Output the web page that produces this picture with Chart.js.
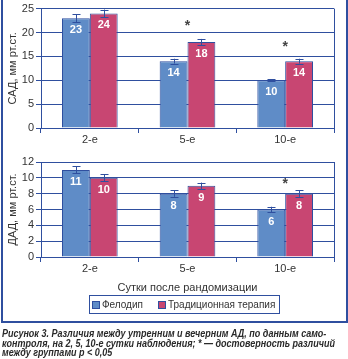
<!DOCTYPE html>
<html lang="ru">
<head>
  <meta charset="UTF-8">
  <title>Рисунок 3</title>
  <script src="https://cdn.jsdelivr.net/npm/chart.js"></script>
  <style>
    body, html {
      margin: 0;
      padding: 0;
      width: 348px;
      height: 359px;
      overflow: hidden;
      background: #fff;
      font-family: "Liberation Sans", Arial, sans-serif;
    }
    #frame {
      position: absolute;
      left: 1px;
      top: -2px;
      width: 343px;
      height: 321px;
      border: 2px solid #2f4f9f;
    }
    canvas { position: absolute; left: 0; }
    #top { top: 0; }
    #bottom { top: 145px; }
    #legend {
      position: absolute;
      left: 89px;
      top: 295px;
      width: 189px;
      height: 17px;
      border: 1px solid #2f4f9f;
      font-size: 10px;
      color: #333;
      line-height: 17px;
      white-space: nowrap;
    }
    #legend span.item { position: absolute; top: 0; }
    #legend span.box {
      display: inline-block;
      width: 6px;
      height: 6px;
      border: 1px solid #2f4f9f;
      margin-right: 2px;
      vertical-align: -1px;
    }
    #caption {
      position: absolute;
      left: 2px;
      top: 329px;
      font-size: 11px;
      line-height: 9.5px;
      font-weight: bold;
      font-style: italic;
      color: #2a2a2a;
      white-space: nowrap;
      transform-origin: 0 0;
    }
    #caption div { display: table; }
  </style>
</head>
<body>
  <div id="frame"></div>
  <canvas id="top" width="348" height="150"></canvas>
  <canvas id="bottom" width="348" height="150"></canvas>
  <div id="legend"></div>
  <div id="caption"></div>

  <script>
    // Data
    const categories = ['2-е', '5-е', '10-е'];
    const seriesNames = ['Фелодип', 'Традиционная терапия'];
    const seriesColors = ['#5f8cc7', '#c84672'];

    // САД (systolic)
    const sadFelodip = [23, 14, 10];
    const sadTrad = [24, 18, 14];
    const sadFelodipErr = [0.8, 0.5, 0.25];
    const sadTradErr = [0.8, 0.65, 0.5];
    const sadStars = [null, 22, 17.5]; // where the * sits, in axis units

    // ДАД (diastolic)
    const dadFelodip = [11, 8, 6];
    const dadTrad = [10, 9, 8];
    const dadFelodipErr = [0.45, 0.4, 0.35];
    const dadTradErr = [0.45, 0.4, 0.4];
    const dadStars = [null, null, 9.6];

    const lineBlue = '#2f4f9f';
    const textGray = '#333333';
    Chart.defaults.font.family = '"Liberation Sans", Arial, sans-serif';
    Chart.defaults.font.size = 11;
    Chart.defaults.color = textGray;

    // error bars, white value labels, asterisks, right frame line
    const extras = {
      id: 'extras',
      afterDatasetsDraw(chart, args, opts) {
        const ctx = chart.ctx;
        const y = chart.scales.y;
        const x = chart.scales.x;
        const area = chart.chartArea;
        ctx.save();
        ctx.strokeStyle = lineBlue;
        ctx.lineWidth = 1;
        ctx.beginPath();
        ctx.moveTo(area.right + 0.5, area.top);
        ctx.lineTo(area.right + 0.5, area.bottom);
        ctx.stroke();

        chart.data.datasets.forEach((ds, di) => {
          const meta = chart.getDatasetMeta(di);
          meta.data.forEach((bar, i) => {
            const v = ds.data[i];
            const e = ds.errors[i];
            const cx = Math.round(bar.x) + 0.5;
            const yt = y.getPixelForValue(v + e);
            const yb = y.getPixelForValue(v - e);
            ctx.strokeStyle = lineBlue;
            ctx.beginPath();
            ctx.moveTo(cx, yt); ctx.lineTo(cx, yb);
            ctx.moveTo(cx - 4, Math.round(yt) + 0.5); ctx.lineTo(cx + 4, Math.round(yt) + 0.5);
            ctx.moveTo(cx - 4, Math.round(yb) + 0.5); ctx.lineTo(cx + 4, Math.round(yb) + 0.5);
            ctx.stroke();

            ctx.fillStyle = '#ffffff';
            ctx.font = 'bold 11px "Liberation Sans", Arial, sans-serif';
            ctx.textAlign = 'center';
            ctx.textBaseline = 'middle';
            ctx.fillText(String(v), bar.x, bar.y + 12);
          });
        });

        ctx.fillStyle = '#444';
        ctx.font = 'bold 14px "Liberation Sans", Arial, sans-serif';
        ctx.textAlign = 'center';
        ctx.textBaseline = 'middle';
        opts.stars.forEach((s, i) => {
          if (s === null) return;
          ctx.fillText('*', x.getPixelForValue(i), y.getPixelForValue(s) + 3);
        });
        ctx.restore();
      }
    };

    function makeChart(id, a, b, ea, eb, stars, yMax, yStep, yTitle, xTitle, padTop, xHeight) {
      return new Chart(document.getElementById(id), {
        type: 'bar',
        data: {
          labels: categories,
          datasets: [
            { label: seriesNames[0], data: a, errors: ea, backgroundColor: seriesColors[0] },
            { label: seriesNames[1], data: b, errors: eb, backgroundColor: seriesColors[1] }
          ]
        },
        options: {
          responsive: false,
          animation: false,
          categoryPercentage: 0.57,
          barPercentage: 1.0,
          borderColor: lineBlue,
          borderWidth: 1,
          layout: { padding: { top: padTop, right: 14, left: 0, bottom: 0 } },
          scales: {
            x: {
              offset: true,
              grid: { offset: true, drawOnChartArea: false, drawTicks: true, tickLength: 5, color: lineBlue },
              border: { color: lineBlue, width: 1 },
              ticks: { padding: 0, color: textGray },
              title: { display: !!xTitle, text: xTitle, color: textGray, padding: { top: 2, bottom: 0 } },
              afterFit(s) { s.height = xHeight; }
            },
            y: {
              min: 0,
              max: yMax,
              ticks: { stepSize: yStep, padding: 2, color: textGray, autoSkip: false },
              grid: { color: lineBlue, tickLength: 5 },
              border: { color: lineBlue, width: 1 },
              title: { display: true, text: yTitle, color: textGray, padding: { top: 6, bottom: 0 } },
              afterFit(s) { s.width = 41; }
            }
          },
          plugins: {
            legend: { display: false },
            tooltip: { enabled: false },
            extras: { stars: stars }
          }
        },
        plugins: [extras]
      });
    }

    makeChart('top', sadFelodip, sadTrad, sadFelodipErr, sadTradErr, sadStars,
      25, 5, 'САД, мм рт.ст.', '', 8, 22);
    makeChart('bottom', dadFelodip, dadTrad, dadFelodipErr, dadTradErr, dadStars,
      12, 2, 'ДАД, мм рт.ст.', 'Сутки после рандомизации', 17, 38);

    // legend
    const legend = document.getElementById('legend');
    const legendX = [2, 68];
    seriesNames.forEach((name, i) => {
      const item = document.createElement('span');
      item.className = 'item';
      item.style.left = legendX[i] + 'px';
      item.innerHTML = '<span class="box" style="background:' + seriesColors[i] + '"></span>' + name;
      legend.appendChild(item);
    });

    // caption, squeezed horizontally to the width of the original lines
    const captionLines = [
      'Рисунок 3. Различия между утренним и вечерним АД, по данным само-',
      'контроля, на 2, 5, 10-е сутки наблюдения; * — достоверность различий',
      'между группами p < 0,05'
    ];
    const caption = document.getElementById('caption');
    const rows = captionLines.map(t => {
      const d = document.createElement('div');
      d.textContent = t;
      caption.appendChild(d);
      return d;
    });
    const widest = Math.max(...rows.map(r => r.getBoundingClientRect().width));
    caption.style.transform = 'scaleX(' + (333 / widest) + ')';
  </script>
</body>
</html>
